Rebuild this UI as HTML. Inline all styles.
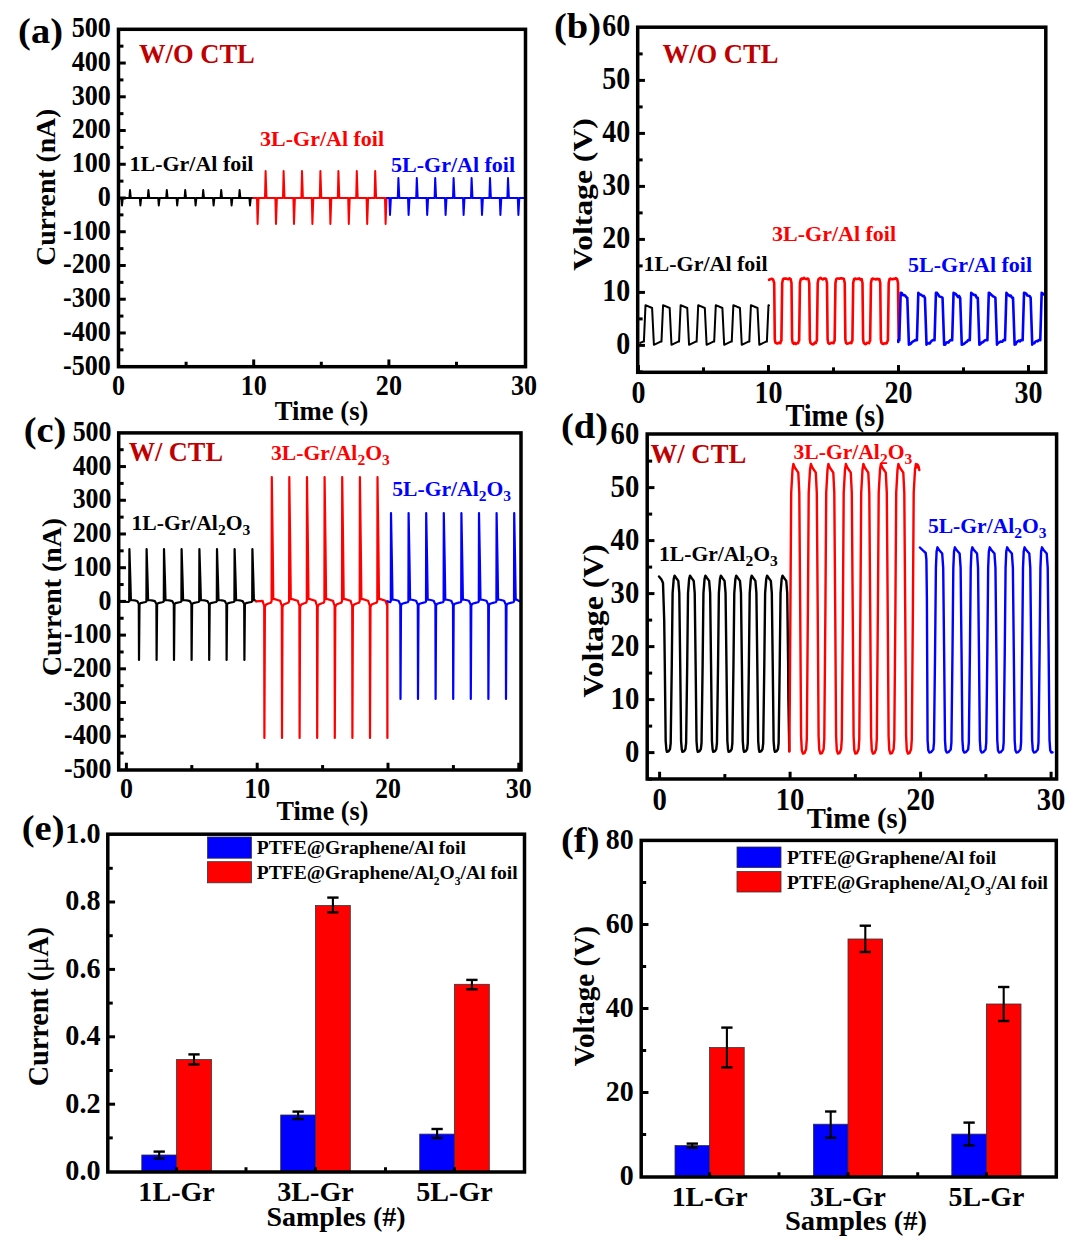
<!DOCTYPE html>
<html><head><meta charset="utf-8"><style>
html,body{margin:0;padding:0;background:#fff;overflow:hidden;}
svg{display:block;}
text{font-family:'Liberation Serif', serif;font-weight:bold;}
</style></head><body>
<svg width="1075" height="1246" viewBox="0 0 1075 1246">
<rect width="1075" height="1246" fill="#fff"/>
<polyline points="118.5,198 121.4,198 122,205.5 122.8,198 129.4,198 130,190 130.8,198 139.8,198 140.4,205.5 141.2,198 147.8,198 148.4,190 149.2,198 158.2,198 158.8,205.5 159.6,198 166.2,198 166.8,190 167.6,198 176.6,198 177.2,205.5 178,198 184.6,198 185.2,190 186,198 195,198 195.6,205.5 196.4,198 202.6,198 203.2,190 204,198 213,198 213.6,205.5 214.4,198 220.6,198 221.2,190 222,198 231,198 231.6,205.5 232.4,198 239,198 239.6,190 240.4,198 249.4,198 250,205.5 250.8,198 253,198" fill="none" stroke="#000" stroke-width="2" stroke-linejoin="round" stroke-linecap="round"/>
<polyline points="253,198 257,198 257.6,224 258.5,198 265,198 265.6,171 266.5,198 275.4,198 276,224 276.9,198 283,198 283.6,171 284.5,198 293.4,198 294,224 294.9,198 301.4,198 302,171 302.9,198 311.8,198 312.4,224 313.3,198 319.8,198 320.4,171 321.3,198 329.8,198 330.4,224 331.3,198 337.8,198 338.4,171 339.3,198 348.2,198 348.8,224 349.7,198 356.2,198 356.8,171 357.7,198 366.6,198 367.2,224 368.1,198 374.6,198 375.2,171 376.1,198 385,198 385.6,224 386.5,198 387,198" fill="none" stroke="#ff0000" stroke-width="2" stroke-linejoin="round" stroke-linecap="round"/>
<polyline points="387,198 389.4,198 390,215 390.9,198 397.8,198 398.4,178 399.3,198 408,198 408.6,215 409.5,198 416.2,198 416.8,178 417.7,198 426.6,198 427.2,215 428.1,198 434.6,198 435.2,178 436.1,198 445,198 445.6,215 446.5,198 453,198 453.6,178 454.5,198 463,198 463.6,215 464.5,198 471,198 471.6,178 472.5,198 481.4,198 482,215 482.9,198 489.4,198 490,178 490.9,198 499.8,198 500.4,215 501.3,198 507.4,198 508,178 508.9,198 517.8,198 518.4,215 519.3,198 524.5,198" fill="none" stroke="#0000ff" stroke-width="2" stroke-linejoin="round" stroke-linecap="round"/>
<rect x="118.5" y="29.3" width="407" height="337.4" fill="none" stroke="#000" stroke-width="3.5"/>
<line x1="118.5" y1="332.96" x2="125.75" y2="332.96" stroke="#000" stroke-width="3" stroke-linecap="butt"/>
<line x1="118.5" y1="299.22" x2="125.75" y2="299.22" stroke="#000" stroke-width="3" stroke-linecap="butt"/>
<line x1="118.5" y1="265.48" x2="125.75" y2="265.48" stroke="#000" stroke-width="3" stroke-linecap="butt"/>
<line x1="118.5" y1="231.74" x2="125.75" y2="231.74" stroke="#000" stroke-width="3" stroke-linecap="butt"/>
<line x1="118.5" y1="198" x2="125.75" y2="198" stroke="#000" stroke-width="3" stroke-linecap="butt"/>
<line x1="118.5" y1="164.26" x2="125.75" y2="164.26" stroke="#000" stroke-width="3" stroke-linecap="butt"/>
<line x1="118.5" y1="130.52" x2="125.75" y2="130.52" stroke="#000" stroke-width="3" stroke-linecap="butt"/>
<line x1="118.5" y1="96.78" x2="125.75" y2="96.78" stroke="#000" stroke-width="3" stroke-linecap="butt"/>
<line x1="118.5" y1="63.04" x2="125.75" y2="63.04" stroke="#000" stroke-width="3" stroke-linecap="butt"/>
<line x1="118.5" y1="349.83" x2="123.45" y2="349.83" stroke="#000" stroke-width="3" stroke-linecap="butt"/>
<line x1="118.5" y1="316.09" x2="123.45" y2="316.09" stroke="#000" stroke-width="3" stroke-linecap="butt"/>
<line x1="118.5" y1="282.35" x2="123.45" y2="282.35" stroke="#000" stroke-width="3" stroke-linecap="butt"/>
<line x1="118.5" y1="248.61" x2="123.45" y2="248.61" stroke="#000" stroke-width="3" stroke-linecap="butt"/>
<line x1="118.5" y1="214.87" x2="123.45" y2="214.87" stroke="#000" stroke-width="3" stroke-linecap="butt"/>
<line x1="118.5" y1="181.13" x2="123.45" y2="181.13" stroke="#000" stroke-width="3" stroke-linecap="butt"/>
<line x1="118.5" y1="147.39" x2="123.45" y2="147.39" stroke="#000" stroke-width="3" stroke-linecap="butt"/>
<line x1="118.5" y1="113.65" x2="123.45" y2="113.65" stroke="#000" stroke-width="3" stroke-linecap="butt"/>
<line x1="118.5" y1="79.91" x2="123.45" y2="79.91" stroke="#000" stroke-width="3" stroke-linecap="butt"/>
<line x1="118.5" y1="46.17" x2="123.45" y2="46.17" stroke="#000" stroke-width="3" stroke-linecap="butt"/>
<line x1="253.7" y1="366.7" x2="253.7" y2="359.45" stroke="#000" stroke-width="3" stroke-linecap="butt"/>
<line x1="388.9" y1="366.7" x2="388.9" y2="359.45" stroke="#000" stroke-width="3" stroke-linecap="butt"/>
<line x1="186.1" y1="366.7" x2="186.1" y2="361.75" stroke="#000" stroke-width="3" stroke-linecap="butt"/>
<line x1="321.3" y1="366.7" x2="321.3" y2="361.75" stroke="#000" stroke-width="3" stroke-linecap="butt"/>
<line x1="456.5" y1="366.7" x2="456.5" y2="361.75" stroke="#000" stroke-width="3" stroke-linecap="butt"/>
<text transform="translate(110.8 374.55) scale(1.0000 1.0960)" font-size="26.1" fill="#000" text-anchor="end" >-500</text>
<text transform="translate(110.8 340.81) scale(1.0000 1.0960)" font-size="26.1" fill="#000" text-anchor="end" >-400</text>
<text transform="translate(110.8 307.07) scale(1.0000 1.0960)" font-size="26.1" fill="#000" text-anchor="end" >-300</text>
<text transform="translate(110.8 273.33) scale(1.0000 1.0960)" font-size="26.1" fill="#000" text-anchor="end" >-200</text>
<text transform="translate(110.8 239.59) scale(1.0000 1.0960)" font-size="26.1" fill="#000" text-anchor="end" >-100</text>
<text transform="translate(110.8 205.85) scale(1.0000 1.0960)" font-size="26.1" fill="#000" text-anchor="end" >0</text>
<text transform="translate(110.8 172.11) scale(1.0000 1.0960)" font-size="26.1" fill="#000" text-anchor="end" >100</text>
<text transform="translate(110.8 138.37) scale(1.0000 1.0960)" font-size="26.1" fill="#000" text-anchor="end" >200</text>
<text transform="translate(110.8 104.63) scale(1.0000 1.0960)" font-size="26.1" fill="#000" text-anchor="end" >300</text>
<text transform="translate(110.8 70.89) scale(1.0000 1.0960)" font-size="26.1" fill="#000" text-anchor="end" >400</text>
<text transform="translate(110.8 37.15) scale(1.0000 1.0960)" font-size="26.1" fill="#000" text-anchor="end" >500</text>
<text transform="translate(118.5 394.5) scale(1.0000 1.0960)" font-size="26.1" fill="#000" text-anchor="middle" >0</text>
<text transform="translate(253.7 394.5) scale(1.0000 1.0960)" font-size="26.1" fill="#000" text-anchor="middle" >10</text>
<text transform="translate(388.9 394.5) scale(1.0000 1.0960)" font-size="26.1" fill="#000" text-anchor="middle" >20</text>
<text transform="translate(524.1 394.5) scale(1.0000 1.0960)" font-size="26.1" fill="#000" text-anchor="middle" >30</text>
<text transform="translate(321.6 420.1) scale(1.0000 0.9900)" font-size="26.7" fill="#000" text-anchor="middle" >Time (s)</text>
<text transform="translate(55 187.3) rotate(-90) scale(1.0000 1)" font-size="27.7" text-anchor="middle">Current (nA)</text>
<text transform="translate(18.1 42.9) scale(1.0000 0.9500)" font-size="38.5" fill="#000" text-anchor="start" >(a)</text>
<text x="139" y="62.6" font-size="26.55" fill="#c00000" text-anchor="start" >W/O CTL</text>
<text transform="translate(129.5 170.7) scale(1.0000 0.9600)" font-size="22" fill="#000" text-anchor="start" >1L-Gr/Al foil</text>
<text transform="translate(260.1 145.6) scale(1.0000 0.9600)" font-size="22" fill="#ff0000" text-anchor="start" >3L-Gr/Al foil</text>
<text transform="translate(391.1 172) scale(1.0000 0.9600)" font-size="22" fill="#0000ff" text-anchor="start" >5L-Gr/Al foil</text>
<polyline points="640.2,342.93 642.53,341.8 643.9,341.6 645.5,305.2 652.1,308 653.9,344.8 660.1,341.8 661.47,341.6 663.07,305.2 669.67,308 671.47,344.8 677.67,341.8 679.04,341.6 680.64,305.2 687.24,308 689.04,344.8 695.24,341.8 696.61,341.6 698.21,305.2 704.81,308 706.61,344.8 712.81,341.8 714.18,341.6 715.78,305.2 722.38,308 724.18,344.8 730.38,341.8 731.75,341.6 733.35,305.2 739.95,308 741.75,344.8 747.95,341.8 749.32,341.6 750.92,305.2 757.52,308 759.32,344.8 765.52,341.8 766.89,341.6 768.49,305.2 769,305.42" fill="none" stroke="#000" stroke-width="2" stroke-linejoin="round" stroke-linecap="round"/>
<polyline points="769,279.8 771,279 772.1,278.81 773.2,279.8 774.2,283 774.8,339.2 775.4,342.7 776.64,343.38 777.88,343.37 779.11,342.68 780.35,343.2 781.15,340.7 781.4,340.7 782.2,283 783,279.3 783.9,278.5 785.02,278.58 786.13,278.59 787.25,278.99 788.37,279.3 789.48,278.27 790.6,279 791.5,283 792.1,339.2 792.7,342.9 793.7,343.8 794.8,342.9 795.9,344.04 797,343.24 798.1,343.2 798.9,340.7 799.15,340.7 799.95,283 800.75,279.3 801.65,278.5 802.77,279 803.88,277.87 805,278.66 806.12,279.19 807.23,278.48 808.35,279 809.25,283 809.85,339.2 810.45,342.9 811.45,343.8 812.55,344.36 813.65,344.14 814.75,342.6 815.85,343.2 816.65,340.7 816.9,340.7 817.7,283 818.5,279.3 819.4,278.5 820.52,277.82 821.63,278.73 822.75,279.45 823.87,278.64 824.98,278.46 826.1,279 827,283 827.6,339.2 828.2,342.9 829.2,343.8 830.3,343.53 831.4,342.75 832.5,342.9 833.6,343.2 834.4,340.7 834.65,340.7 835.45,283 836.25,279.3 837.15,278.5 838.27,278.48 839.38,278.66 840.5,278.32 841.62,278.4 842.73,278.47 843.85,279 844.75,283 845.35,339.2 845.95,342.9 846.95,343.8 848.05,343.59 849.15,343.16 850.25,342.58 851.35,343.2 852.15,340.7 852.4,340.7 853.2,283 854,279.3 854.9,278.5 856.02,279.12 857.13,278.76 858.25,278.98 859.37,278.33 860.48,279.7 861.6,279 862.5,283 863.1,339.2 863.7,342.9 864.7,343.8 865.8,344.23 866.9,342.89 868,343.08 869.1,343.2 869.9,340.7 870.15,340.7 870.95,283 871.75,279.3 872.65,278.5 873.77,278.94 874.88,279 876,279.45 877.12,278.71 878.23,279.44 879.35,279 880.25,283 880.85,339.2 881.45,342.9 882.45,343.8 883.55,343.92 884.65,343.19 885.75,343.49 886.85,343.2 887.65,340.7 887.9,340.7 888.7,283 889.5,279.3 890.4,278.5 891.52,279.2 892.63,279.22 893.75,278.76 894.87,278.98 895.98,278.17 897.1,279 898,283 898.6,339.2 898.6,339.2" fill="none" stroke="#ff0000" stroke-width="2.6" stroke-linejoin="round" stroke-linecap="round"/>
<polyline points="898.3,342 898.3,340.1 899.3,340.1 900.7,292.8 901.8,293.07 902.9,295.12 904,295.11 905.1,295.41 906.2,297.07 907.3,297.8 908.9,344.6 909.97,344.3 911.03,343.48 912.1,342.07 913.17,341.47 914.23,340.87 915.3,340.1 916.92,340.1 918.32,292.8 919.42,294.25 920.52,294.51 921.62,295.07 922.72,296.11 923.82,295.93 924.92,297.8 926.52,344.6 927.59,342.85 928.65,343.55 929.72,343.41 930.79,341.81 931.85,340.62 932.92,340.1 934.54,340.1 935.94,292.8 937.04,292.91 938.14,294.47 939.24,296.36 940.34,296.73 941.44,297.05 942.54,297.8 944.14,344.6 945.21,344.64 946.27,342.51 947.34,342.38 948.41,342.6 949.47,341.02 950.54,340.1 952.16,340.1 953.56,292.8 954.66,293.54 955.76,293.96 956.86,295.41 957.96,297.14 959.06,295.88 960.16,297.8 961.76,344.6 962.83,344.47 963.89,343.81 964.96,343.2 966.03,342.13 967.09,341.53 968.16,340.1 969.78,340.1 971.18,292.8 972.28,293.67 973.38,294.6 974.48,295.14 975.58,295.16 976.68,297.78 977.78,297.8 979.38,344.6 980.45,344 981.51,342.44 982.58,342.36 983.65,341.57 984.71,340.53 985.78,340.1 987.4,340.1 988.8,292.8 989.9,293.29 991,294.55 992.1,295.57 993.2,296.38 994.3,296.87 995.4,297.8 997,344.6 998.07,342.81 999.13,342.51 1000.2,341.64 1001.27,341.79 1002.33,341.64 1003.4,340.1 1005.02,340.1 1006.42,292.8 1007.52,294.29 1008.62,295.12 1009.72,296 1010.82,295.59 1011.92,297.72 1013.02,297.8 1014.62,344.6 1015.69,344.23 1016.75,342.18 1017.82,341.29 1018.89,340.53 1019.95,341.41 1021.02,340.1 1022.64,340.1 1024.04,292.8 1025.14,293.08 1026.24,293.61 1027.34,295.57 1028.44,295.79 1029.54,296.02 1030.64,297.8 1032.24,344.6 1033.31,343.1 1034.37,343.16 1035.44,341.62 1036.51,341.1 1037.57,341.32 1038.64,340.1 1040.26,340.1 1041.66,292.8 1042.83,293.59 1044,294.57" fill="none" stroke="#0000ff" stroke-width="2.6" stroke-linejoin="round" stroke-linecap="round"/>
<rect x="637.7" y="27.2" width="408.1" height="345.1" fill="none" stroke="#000" stroke-width="3.5"/>
<line x1="637.7" y1="345.4" x2="644.95" y2="345.4" stroke="#000" stroke-width="3" stroke-linecap="butt"/>
<line x1="637.7" y1="292.4" x2="644.95" y2="292.4" stroke="#000" stroke-width="3" stroke-linecap="butt"/>
<line x1="637.7" y1="239.4" x2="644.95" y2="239.4" stroke="#000" stroke-width="3" stroke-linecap="butt"/>
<line x1="637.7" y1="186.4" x2="644.95" y2="186.4" stroke="#000" stroke-width="3" stroke-linecap="butt"/>
<line x1="637.7" y1="133.4" x2="644.95" y2="133.4" stroke="#000" stroke-width="3" stroke-linecap="butt"/>
<line x1="637.7" y1="80.4" x2="644.95" y2="80.4" stroke="#000" stroke-width="3" stroke-linecap="butt"/>
<line x1="637.7" y1="371.9" x2="642.65" y2="371.9" stroke="#000" stroke-width="3" stroke-linecap="butt"/>
<line x1="637.7" y1="318.9" x2="642.65" y2="318.9" stroke="#000" stroke-width="3" stroke-linecap="butt"/>
<line x1="637.7" y1="265.9" x2="642.65" y2="265.9" stroke="#000" stroke-width="3" stroke-linecap="butt"/>
<line x1="637.7" y1="212.9" x2="642.65" y2="212.9" stroke="#000" stroke-width="3" stroke-linecap="butt"/>
<line x1="637.7" y1="159.9" x2="642.65" y2="159.9" stroke="#000" stroke-width="3" stroke-linecap="butt"/>
<line x1="637.7" y1="106.9" x2="642.65" y2="106.9" stroke="#000" stroke-width="3" stroke-linecap="butt"/>
<line x1="637.7" y1="53.9" x2="642.65" y2="53.9" stroke="#000" stroke-width="3" stroke-linecap="butt"/>
<line x1="638.5" y1="372.3" x2="638.5" y2="365.05" stroke="#000" stroke-width="3" stroke-linecap="butt"/>
<line x1="768.5" y1="372.3" x2="768.5" y2="365.05" stroke="#000" stroke-width="3" stroke-linecap="butt"/>
<line x1="898.5" y1="372.3" x2="898.5" y2="365.05" stroke="#000" stroke-width="3" stroke-linecap="butt"/>
<line x1="1028.5" y1="372.3" x2="1028.5" y2="365.05" stroke="#000" stroke-width="3" stroke-linecap="butt"/>
<line x1="703.5" y1="372.3" x2="703.5" y2="367.35" stroke="#000" stroke-width="3" stroke-linecap="butt"/>
<line x1="833.5" y1="372.3" x2="833.5" y2="367.35" stroke="#000" stroke-width="3" stroke-linecap="butt"/>
<line x1="963.5" y1="372.3" x2="963.5" y2="367.35" stroke="#000" stroke-width="3" stroke-linecap="butt"/>
<text transform="translate(630.2 353.96) scale(1.0000 1.0960)" font-size="28" fill="#000" text-anchor="end" >0</text>
<text transform="translate(630.2 300.96) scale(1.0000 1.0960)" font-size="28" fill="#000" text-anchor="end" >10</text>
<text transform="translate(630.2 247.96) scale(1.0000 1.0960)" font-size="28" fill="#000" text-anchor="end" >20</text>
<text transform="translate(630.2 194.96) scale(1.0000 1.0960)" font-size="28" fill="#000" text-anchor="end" >30</text>
<text transform="translate(630.2 141.96) scale(1.0000 1.0960)" font-size="28" fill="#000" text-anchor="end" >40</text>
<text transform="translate(630.2 88.96) scale(1.0000 1.0960)" font-size="28" fill="#000" text-anchor="end" >50</text>
<text transform="translate(630.2 35.96) scale(1.0000 1.0960)" font-size="28" fill="#000" text-anchor="end" >60</text>
<text transform="translate(638.5 402.6) scale(1.0000 1.0960)" font-size="28" fill="#000" text-anchor="middle" >0</text>
<text transform="translate(768.5 402.6) scale(1.0000 1.0960)" font-size="28" fill="#000" text-anchor="middle" >10</text>
<text transform="translate(898.5 402.6) scale(1.0000 1.0960)" font-size="28" fill="#000" text-anchor="middle" >20</text>
<text transform="translate(1028.5 402.6) scale(1.0000 1.0960)" font-size="28" fill="#000" text-anchor="middle" >30</text>
<text transform="translate(835 426.2) scale(1.0000 1.0800)" font-size="28.3" fill="#000" text-anchor="middle" >Time (s)</text>
<text transform="translate(591.5 194.5) rotate(-90) scale(1.1300 1)" font-size="28" text-anchor="middle">Voltage (V)</text>
<text transform="translate(554 37.6) scale(1.0000 0.9500)" font-size="38.5" fill="#000" text-anchor="start" >(b)</text>
<text x="662.6" y="63.2" font-size="26.55" fill="#c00000" text-anchor="start" >W/O CTL</text>
<text transform="translate(643.6 270.6) scale(1.0000 0.9600)" font-size="22" fill="#000" text-anchor="start" >1L-Gr/Al foil</text>
<text transform="translate(772.1 241) scale(1.0000 0.9600)" font-size="22" fill="#ff0000" text-anchor="start" >3L-Gr/Al foil</text>
<text transform="translate(908.1 272) scale(1.0000 0.9600)" font-size="22" fill="#0000ff" text-anchor="start" >5L-Gr/Al foil</text>
<polyline points="118.4,601.3 128.5,602.02 129.2,601.3 129.4,549 130.3,577.76 130.9,600.1 131.6,599.98 135.9,600.7 137.2,601.06 138.2,602.86 138.8,603.7 139,660 139.5,604.42 140.6,603.1 144.5,602.26 145.7,602.02 146.4,601.3 146.6,549 147.5,577.76 148.1,600.1 148.8,599.98 153.1,600.7 154.8,601.06 155.8,602.86 156.4,603.7 156.6,660 157.1,604.42 158.2,603.1 162.1,602.26 163.1,602.02 163.8,601.3 164,549 164.9,577.76 165.5,600.1 166.2,599.98 170.5,600.7 172.2,601.06 173.2,602.86 173.8,603.7 174,660 174.5,604.42 175.6,603.1 179.5,602.26 180.7,602.02 181.4,601.3 181.6,549 182.5,577.76 183.1,600.1 183.8,599.98 188.1,600.7 189.8,601.06 190.8,602.86 191.4,603.7 191.6,660 192.1,604.42 193.2,603.1 197.1,602.26 198.5,602.02 199.2,601.3 199.4,549 200.3,577.76 200.9,600.1 201.6,599.98 205.9,600.7 207.4,601.06 208.4,602.86 209,603.7 209.2,660 209.7,604.42 210.8,603.1 214.7,602.26 216.1,602.02 216.8,601.3 217,549 217.9,577.76 218.5,600.1 219.2,599.98 223.5,600.7 224.8,601.06 225.8,602.86 226.4,603.7 226.6,660 227.1,604.42 228.2,603.1 232.1,602.26 233.7,602.02 234.4,601.3 234.6,549 235.5,577.76 236.1,600.1 236.8,599.98 241.1,600.7 242.6,601.06 243.6,602.86 244.2,603.7 244.4,660 244.9,604.42 246,603.1 249.9,602.26 251.5,602.02 252.2,601.3 252.4,549 253.3,577.76 253.9,600.1 254.6,599.98 256,601.3" fill="none" stroke="#000" stroke-width="2.2" stroke-linejoin="round" stroke-linecap="round"/>
<polyline points="256,601.3 262.6,600.86 263.6,604.16 264.2,605.7 264.4,738 264.9,607.02 266,604.6 269.9,603.06 270.9,602.62 271.6,601.3 271.8,477 272.7,545.37 273.3,599.1 274,598.88 278.3,600.2 280.2,600.86 281.2,604.16 281.8,605.7 282,738 282.5,607.02 283.6,604.6 287.5,603.06 288.4,602.62 289.1,601.3 289.3,477 290.2,545.37 290.8,599.1 291.5,598.88 295.8,600.2 297.8,600.86 298.8,604.16 299.4,605.7 299.6,738 300.1,607.02 301.2,604.6 305.1,603.06 306.1,602.62 306.8,601.3 307,477 307.9,545.37 308.5,599.1 309.2,598.88 313.5,600.2 315.4,600.86 316.4,604.16 317,605.7 317.2,738 317.7,607.02 318.8,604.6 322.7,603.06 323.7,602.62 324.4,601.3 324.6,477 325.5,545.37 326.1,599.1 326.8,598.88 331.1,600.2 333,600.86 334,604.16 334.6,605.7 334.8,738 335.3,607.02 336.4,604.6 340.3,603.06 341.3,602.62 342,601.3 342.2,477 343.1,545.37 343.7,599.1 344.4,598.88 348.7,600.2 350.6,600.86 351.6,604.16 352.2,605.7 352.4,738 352.9,607.02 354,604.6 357.9,603.06 359,602.62 359.7,601.3 359.9,477 360.8,545.37 361.4,599.1 362.1,598.88 366.4,600.2 368.2,600.86 369.2,604.16 369.8,605.7 370,738 370.5,607.02 371.6,604.6 375.5,603.06 376.6,602.62 377.3,601.3 377.5,477 378.4,545.37 379,599.1 379.7,598.88 384,600.2 385.6,600.86 386.6,604.16 387.2,605.7 387.4,738 387.4,601.3" fill="none" stroke="#ff0000" stroke-width="2.2" stroke-linejoin="round" stroke-linecap="round"/>
<polyline points="387.4,601.3 390.1,602.26 390.8,601.3 391,513 391.9,561.56 392.5,599.7 393.2,599.54 397.5,600.5 398.7,600.98 399.7,603.38 400.3,604.5 400.5,699 401,605.46 402.1,603.7 406,602.58 407.7,602.26 408.4,601.3 408.6,513 409.5,561.56 410.1,599.7 410.8,599.54 415.1,600.5 416.2,600.98 417.2,603.38 417.8,604.5 418,699 418.5,605.46 419.6,603.7 423.5,602.58 425.3,602.26 426,601.3 426.2,513 427.1,561.56 427.7,599.7 428.4,599.54 432.7,600.5 433.8,600.98 434.8,603.38 435.4,604.5 435.6,699 436.1,605.46 437.2,603.7 441.1,602.58 442.9,602.26 443.6,601.3 443.8,513 444.7,561.56 445.3,599.7 446,599.54 450.3,600.5 451.4,600.98 452.4,603.38 453,604.5 453.2,699 453.7,605.46 454.8,603.7 458.7,602.58 460.5,602.26 461.2,601.3 461.4,513 462.3,561.56 462.9,599.7 463.6,599.54 467.9,600.5 469,600.98 470,603.38 470.6,604.5 470.8,699 471.3,605.46 472.4,603.7 476.3,602.58 478.1,602.26 478.8,601.3 479,513 479.9,561.56 480.5,599.7 481.2,599.54 485.5,600.5 486.6,600.98 487.6,603.38 488.2,604.5 488.4,699 488.9,605.46 490,603.7 493.9,602.58 495.7,602.26 496.4,601.3 496.6,513 497.5,561.56 498.1,599.7 498.8,599.54 503.1,600.5 504.2,600.98 505.2,603.38 505.8,604.5 506,699 506.5,605.46 507.6,603.7 511.5,602.58 513.3,602.26 514,601.3 514.2,513 515.1,561.56 515.7,599.7 516.4,599.54 519.5,601.3" fill="none" stroke="#0000ff" stroke-width="2.2" stroke-linejoin="round" stroke-linecap="round"/>
<rect x="118.7" y="432.9" width="402.3" height="337.1" fill="none" stroke="#000" stroke-width="3.5"/>
<line x1="118.7" y1="736.24" x2="125.95" y2="736.24" stroke="#000" stroke-width="3" stroke-linecap="butt"/>
<line x1="118.7" y1="702.53" x2="125.95" y2="702.53" stroke="#000" stroke-width="3" stroke-linecap="butt"/>
<line x1="118.7" y1="668.82" x2="125.95" y2="668.82" stroke="#000" stroke-width="3" stroke-linecap="butt"/>
<line x1="118.7" y1="635.11" x2="125.95" y2="635.11" stroke="#000" stroke-width="3" stroke-linecap="butt"/>
<line x1="118.7" y1="601.4" x2="125.95" y2="601.4" stroke="#000" stroke-width="3" stroke-linecap="butt"/>
<line x1="118.7" y1="567.69" x2="125.95" y2="567.69" stroke="#000" stroke-width="3" stroke-linecap="butt"/>
<line x1="118.7" y1="533.98" x2="125.95" y2="533.98" stroke="#000" stroke-width="3" stroke-linecap="butt"/>
<line x1="118.7" y1="500.27" x2="125.95" y2="500.27" stroke="#000" stroke-width="3" stroke-linecap="butt"/>
<line x1="118.7" y1="466.56" x2="125.95" y2="466.56" stroke="#000" stroke-width="3" stroke-linecap="butt"/>
<line x1="118.7" y1="753.1" x2="123.65" y2="753.1" stroke="#000" stroke-width="3" stroke-linecap="butt"/>
<line x1="118.7" y1="719.38" x2="123.65" y2="719.38" stroke="#000" stroke-width="3" stroke-linecap="butt"/>
<line x1="118.7" y1="685.67" x2="123.65" y2="685.67" stroke="#000" stroke-width="3" stroke-linecap="butt"/>
<line x1="118.7" y1="651.97" x2="123.65" y2="651.97" stroke="#000" stroke-width="3" stroke-linecap="butt"/>
<line x1="118.7" y1="618.25" x2="123.65" y2="618.25" stroke="#000" stroke-width="3" stroke-linecap="butt"/>
<line x1="118.7" y1="584.54" x2="123.65" y2="584.54" stroke="#000" stroke-width="3" stroke-linecap="butt"/>
<line x1="118.7" y1="550.83" x2="123.65" y2="550.83" stroke="#000" stroke-width="3" stroke-linecap="butt"/>
<line x1="118.7" y1="517.12" x2="123.65" y2="517.12" stroke="#000" stroke-width="3" stroke-linecap="butt"/>
<line x1="118.7" y1="483.41" x2="123.65" y2="483.41" stroke="#000" stroke-width="3" stroke-linecap="butt"/>
<line x1="118.7" y1="449.7" x2="123.65" y2="449.7" stroke="#000" stroke-width="3" stroke-linecap="butt"/>
<line x1="126.4" y1="770" x2="126.4" y2="762.75" stroke="#000" stroke-width="3" stroke-linecap="butt"/>
<line x1="257.2" y1="770" x2="257.2" y2="762.75" stroke="#000" stroke-width="3" stroke-linecap="butt"/>
<line x1="388" y1="770" x2="388" y2="762.75" stroke="#000" stroke-width="3" stroke-linecap="butt"/>
<line x1="518.8" y1="770" x2="518.8" y2="762.75" stroke="#000" stroke-width="3" stroke-linecap="butt"/>
<line x1="191.8" y1="770" x2="191.8" y2="765.05" stroke="#000" stroke-width="3" stroke-linecap="butt"/>
<line x1="322.6" y1="770" x2="322.6" y2="765.05" stroke="#000" stroke-width="3" stroke-linecap="butt"/>
<line x1="453.4" y1="770" x2="453.4" y2="765.05" stroke="#000" stroke-width="3" stroke-linecap="butt"/>
<text transform="translate(111.5 778.16) scale(1.0000 1.1450)" font-size="25.9" fill="#000" text-anchor="end" >-500</text>
<text transform="translate(111.5 744.45) scale(1.0000 1.1450)" font-size="25.9" fill="#000" text-anchor="end" >-400</text>
<text transform="translate(111.5 710.74) scale(1.0000 1.1450)" font-size="25.9" fill="#000" text-anchor="end" >-300</text>
<text transform="translate(111.5 677.03) scale(1.0000 1.1450)" font-size="25.9" fill="#000" text-anchor="end" >-200</text>
<text transform="translate(111.5 643.32) scale(1.0000 1.1450)" font-size="25.9" fill="#000" text-anchor="end" >-100</text>
<text transform="translate(111.5 609.61) scale(1.0000 1.1450)" font-size="25.9" fill="#000" text-anchor="end" >0</text>
<text transform="translate(111.5 575.9) scale(1.0000 1.1450)" font-size="25.9" fill="#000" text-anchor="end" >100</text>
<text transform="translate(111.5 542.19) scale(1.0000 1.1450)" font-size="25.9" fill="#000" text-anchor="end" >200</text>
<text transform="translate(111.5 508.48) scale(1.0000 1.1450)" font-size="25.9" fill="#000" text-anchor="end" >300</text>
<text transform="translate(111.5 474.77) scale(1.0000 1.1450)" font-size="25.9" fill="#000" text-anchor="end" >400</text>
<text transform="translate(111.5 441.06) scale(1.0000 1.1450)" font-size="25.9" fill="#000" text-anchor="end" >500</text>
<text transform="translate(126.4 798.2) scale(1.0000 1.1450)" font-size="25.9" fill="#000" text-anchor="middle" >0</text>
<text transform="translate(257.2 798.2) scale(1.0000 1.1450)" font-size="25.9" fill="#000" text-anchor="middle" >10</text>
<text transform="translate(388 798.2) scale(1.0000 1.1450)" font-size="25.9" fill="#000" text-anchor="middle" >20</text>
<text transform="translate(518.8 798.2) scale(1.0000 1.1450)" font-size="25.9" fill="#000" text-anchor="middle" >30</text>
<text transform="translate(322.5 819.7) scale(1.0000 1.0400)" font-size="26.2" fill="#000" text-anchor="middle" >Time (s)</text>
<text transform="translate(61.3 597) rotate(-90) scale(0.9850 1)" font-size="28.3" text-anchor="middle">Current (nA)</text>
<text transform="translate(23.7 442.4) scale(1.0000 0.9500)" font-size="38.5" fill="#000" text-anchor="start" >(c)</text>
<text x="128.7" y="461.3" font-size="26.3" fill="#c00000" text-anchor="start" >W/ CTL</text>
<text x="131.5" y="530.1" font-size="21.6" fill="#000" text-anchor="start" >1L-Gr/Al<tspan font-size="15.5" dy="5">2</tspan><tspan dy="-5">O</tspan><tspan font-size="15.5" dy="5">3</tspan></text>
<text x="271" y="459.5" font-size="21.6" fill="#ff0000" text-anchor="start" >3L-Gr/Al<tspan font-size="15.5" dy="5">2</tspan><tspan dy="-5">O</tspan><tspan font-size="15.5" dy="5">3</tspan></text>
<text x="392.3" y="496.3" font-size="21.6" fill="#0000ff" text-anchor="start" >5L-Gr/Al<tspan font-size="15.5" dy="5">2</tspan><tspan dy="-5">O</tspan><tspan font-size="15.5" dy="5">3</tspan></text>
<polyline points="659,576.4 661.5,579.5 663,583 664.2,620 664.78,663.7 665.68,741.23 666.38,749.69 666.98,751.8 668.58,751.45 670,749.16 670.7,742.99 671.8,663.7 672.6,593.22 673.7,579.12 674.6,575.6 676,577.71 678.3,580.89 679.3,593.22 680.2,663.7 681.1,741.23 681.8,749.69 682.4,751.8 684,751.45 685.42,749.16 686.12,742.99 687.22,663.7 688.02,593.22 689.12,579.12 690.02,575.6 691.42,577.71 693.72,580.89 694.72,593.22 695.62,663.7 696.52,741.23 697.22,749.69 697.82,751.8 699.42,751.45 700.84,749.16 701.54,742.99 702.64,663.7 703.44,593.22 704.54,579.12 705.44,575.6 706.84,577.71 709.14,580.89 710.14,593.22 711.04,663.7 711.94,741.23 712.64,749.69 713.24,751.8 714.84,751.45 716.26,749.16 716.96,742.99 718.06,663.7 718.86,593.22 719.96,579.12 720.86,575.6 722.26,577.71 724.56,580.89 725.56,593.22 726.46,663.7 727.36,741.23 728.06,749.69 728.66,751.8 730.26,751.45 731.68,749.16 732.38,742.99 733.48,663.7 734.28,593.22 735.38,579.12 736.28,575.6 737.68,577.71 739.98,580.89 740.98,593.22 741.88,663.7 742.78,741.23 743.48,749.69 744.08,751.8 745.68,751.45 747.1,749.16 747.8,742.99 748.9,663.7 749.7,593.22 750.8,579.12 751.7,575.6 753.1,577.71 755.4,580.89 756.4,593.22 757.3,663.7 758.2,741.23 758.9,749.69 759.5,751.8 761.1,751.45 762.52,749.16 763.22,742.99 764.32,663.7 765.12,593.22 766.22,579.12 767.12,575.6 768.52,577.71 770.82,580.89 771.82,593.22 772.72,663.7 773.62,741.23 774.32,749.69 774.92,751.8 776.52,751.45 777.94,749.16 778.64,742.99 779.74,663.7 780.54,593.22 781.64,579.12 782.54,575.6 783.94,577.71 786.24,580.89 787.24,593.22 788.14,663.7 788.4,700 789.3,751" fill="none" stroke="#000" stroke-width="2.4" stroke-linejoin="round" stroke-linecap="round"/>
<polyline points="789.3,751.5 789.8,700 790.4,608.8 791.2,492.96 792.5,469.79 793.4,464 794.8,467.48 798.3,472.69 799.3,492.96 800.2,608.8 801.1,736.22 801.8,750.12 802.9,753.6 804.5,753.02 806.1,749.26 806.8,739.12 807.9,608.8 808.7,492.96 810,469.79 810.9,464 812.3,467.48 815.8,472.69 816.8,492.96 817.7,608.8 818.6,736.22 819.3,750.12 820.4,753.6 822,753.02 823.6,749.26 824.3,739.12 825.4,608.8 826.2,492.96 827.5,469.79 828.4,464 829.8,467.48 833.3,472.69 834.3,492.96 835.2,608.8 836.1,736.22 836.8,750.12 837.9,753.6 839.5,753.02 841.1,749.26 841.8,739.12 842.9,608.8 843.7,492.96 845,469.79 845.9,464 847.3,467.48 850.8,472.69 851.8,492.96 852.7,608.8 853.6,736.22 854.3,750.12 855.4,753.6 857,753.02 858.6,749.26 859.3,739.12 860.4,608.8 861.2,492.96 862.5,469.79 863.4,464 864.8,467.48 868.3,472.69 869.3,492.96 870.2,608.8 871.1,736.22 871.8,750.12 872.9,753.6 874.5,753.02 876.1,749.26 876.8,739.12 877.9,608.8 878.7,492.96 880,469.79 880.9,464 882.3,467.48 885.8,472.69 886.8,492.96 887.7,608.8 888.6,736.22 889.3,750.12 890.4,753.6 892,753.02 893.6,749.26 894.3,739.12 895.4,608.8 896.2,492.96 897.5,469.79 898.4,464 899.8,467.48 903.3,472.69 904.3,492.96 905.2,608.8 906.1,736.22 906.8,750.12 907.9,753.6 909.5,753.02 911.1,749.26 911.8,739.12 912.9,608.8 913.7,492.96 915,469.79 915.9,464 917.3,467.48 917.6,464.5 918.6,466.5 919.3,470" fill="none" stroke="#ff0000" stroke-width="2.4" stroke-linejoin="round" stroke-linecap="round"/>
<polyline points="919.9,547.5 923,550.5 925.7,553 926.4,559.5 926.9,600 927.58,740.28 928.28,750.14 929.38,752.6 930.98,752.19 933.3,749.52 934,742.34 935.1,649.95 935.9,567.83 936.6,551.41 937.5,547.3 938.9,549.76 942.2,553.46 943.2,567.83 944.1,649.95 945,740.28 945.7,750.14 946.8,752.6 948.4,752.19 950.72,749.52 951.42,742.34 952.52,649.95 953.32,567.83 954.02,551.41 954.92,547.3 956.32,549.76 959.62,553.46 960.62,567.83 961.52,649.95 962.42,740.28 963.12,750.14 964.22,752.6 965.82,752.19 968.14,749.52 968.84,742.34 969.94,649.95 970.74,567.83 971.44,551.41 972.34,547.3 973.74,549.76 977.04,553.46 978.04,567.83 978.94,649.95 979.84,740.28 980.54,750.14 981.64,752.6 983.24,752.19 985.56,749.52 986.26,742.34 987.36,649.95 988.16,567.83 988.86,551.41 989.76,547.3 991.16,549.76 994.46,553.46 995.46,567.83 996.36,649.95 997.26,740.28 997.96,750.14 999.06,752.6 1000.66,752.19 1002.98,749.52 1003.68,742.34 1004.78,649.95 1005.58,567.83 1006.28,551.41 1007.18,547.3 1008.58,549.76 1011.88,553.46 1012.88,567.83 1013.78,649.95 1014.68,740.28 1015.38,750.14 1016.48,752.6 1018.08,752.19 1020.4,749.52 1021.1,742.34 1022.2,649.95 1023,567.83 1023.7,551.41 1024.6,547.3 1026,549.76 1029.3,553.46 1030.3,567.83 1031.2,649.95 1032.1,740.28 1032.8,750.14 1033.9,752.6 1035.5,752.19 1037.82,749.52 1038.52,742.34 1039.62,649.95 1040.42,567.83 1041.12,551.41 1042.02,547.3 1043.42,549.76 1046.72,553.46 1047.72,567.83 1048.62,649.95 1049.52,740.28 1050.22,750.14 1051.32,752.6 1052.5,752.3" fill="none" stroke="#0000ff" stroke-width="2.4" stroke-linejoin="round" stroke-linecap="round"/>
<rect x="647.2" y="434" width="409.4" height="345" fill="none" stroke="#000" stroke-width="3.5"/>
<line x1="647.2" y1="752.6" x2="654.45" y2="752.6" stroke="#000" stroke-width="3" stroke-linecap="butt"/>
<line x1="647.2" y1="699.6" x2="654.45" y2="699.6" stroke="#000" stroke-width="3" stroke-linecap="butt"/>
<line x1="647.2" y1="646.6" x2="654.45" y2="646.6" stroke="#000" stroke-width="3" stroke-linecap="butt"/>
<line x1="647.2" y1="593.6" x2="654.45" y2="593.6" stroke="#000" stroke-width="3" stroke-linecap="butt"/>
<line x1="647.2" y1="540.6" x2="654.45" y2="540.6" stroke="#000" stroke-width="3" stroke-linecap="butt"/>
<line x1="647.2" y1="487.6" x2="654.45" y2="487.6" stroke="#000" stroke-width="3" stroke-linecap="butt"/>
<line x1="647.2" y1="779.1" x2="652.15" y2="779.1" stroke="#000" stroke-width="3" stroke-linecap="butt"/>
<line x1="647.2" y1="726.1" x2="652.15" y2="726.1" stroke="#000" stroke-width="3" stroke-linecap="butt"/>
<line x1="647.2" y1="673.1" x2="652.15" y2="673.1" stroke="#000" stroke-width="3" stroke-linecap="butt"/>
<line x1="647.2" y1="620.1" x2="652.15" y2="620.1" stroke="#000" stroke-width="3" stroke-linecap="butt"/>
<line x1="647.2" y1="567.1" x2="652.15" y2="567.1" stroke="#000" stroke-width="3" stroke-linecap="butt"/>
<line x1="647.2" y1="514.1" x2="652.15" y2="514.1" stroke="#000" stroke-width="3" stroke-linecap="butt"/>
<line x1="647.2" y1="461.1" x2="652.15" y2="461.1" stroke="#000" stroke-width="3" stroke-linecap="butt"/>
<line x1="659.6" y1="779" x2="659.6" y2="771.75" stroke="#000" stroke-width="3" stroke-linecap="butt"/>
<line x1="790.1" y1="779" x2="790.1" y2="771.75" stroke="#000" stroke-width="3" stroke-linecap="butt"/>
<line x1="920.6" y1="779" x2="920.6" y2="771.75" stroke="#000" stroke-width="3" stroke-linecap="butt"/>
<line x1="1051.1" y1="779" x2="1051.1" y2="771.75" stroke="#000" stroke-width="3" stroke-linecap="butt"/>
<line x1="724.85" y1="779" x2="724.85" y2="774.05" stroke="#000" stroke-width="3" stroke-linecap="butt"/>
<line x1="855.35" y1="779" x2="855.35" y2="774.05" stroke="#000" stroke-width="3" stroke-linecap="butt"/>
<line x1="985.85" y1="779" x2="985.85" y2="774.05" stroke="#000" stroke-width="3" stroke-linecap="butt"/>
<text transform="translate(639.3 761.72) scale(1.0000 1.1270)" font-size="28.7" fill="#000" text-anchor="end" >0</text>
<text transform="translate(639.3 708.72) scale(1.0000 1.1270)" font-size="28.7" fill="#000" text-anchor="end" >10</text>
<text transform="translate(639.3 655.72) scale(1.0000 1.1270)" font-size="28.7" fill="#000" text-anchor="end" >20</text>
<text transform="translate(639.3 602.72) scale(1.0000 1.1270)" font-size="28.7" fill="#000" text-anchor="end" >30</text>
<text transform="translate(639.3 549.72) scale(1.0000 1.1270)" font-size="28.7" fill="#000" text-anchor="end" >40</text>
<text transform="translate(639.3 496.72) scale(1.0000 1.1270)" font-size="28.7" fill="#000" text-anchor="end" >50</text>
<text transform="translate(639.3 443.72) scale(1.0000 1.1270)" font-size="28.7" fill="#000" text-anchor="end" >60</text>
<text transform="translate(659.6 809.7) scale(1.0000 1.1270)" font-size="28.7" fill="#000" text-anchor="middle" >0</text>
<text transform="translate(790.1 809.7) scale(1.0000 1.1270)" font-size="28.7" fill="#000" text-anchor="middle" >10</text>
<text transform="translate(920.6 809.7) scale(1.0000 1.1270)" font-size="28.7" fill="#000" text-anchor="middle" >20</text>
<text transform="translate(1051.1 809.7) scale(1.0000 1.1270)" font-size="28.7" fill="#000" text-anchor="middle" >30</text>
<text transform="translate(857 827.6) scale(1.0000 1.0160)" font-size="28.7" fill="#000" text-anchor="middle" >Time (s)</text>
<text transform="translate(603.3 620.8) rotate(-90) scale(1.0970 1)" font-size="29" text-anchor="middle">Voltage (V)</text>
<text transform="translate(561 438.4) scale(1.0000 0.9500)" font-size="38.5" fill="#000" text-anchor="start" >(d)</text>
<text x="650.6" y="462.9" font-size="26.7" fill="#c00000" text-anchor="start" >W/ CTL</text>
<text x="659" y="561.3" font-size="21.6" fill="#000" text-anchor="start" >1L-Gr/Al<tspan font-size="15.5" dy="5">2</tspan><tspan dy="-5">O</tspan><tspan font-size="15.5" dy="5">3</tspan></text>
<text x="793.5" y="459.3" font-size="21.6" fill="#ff0000" text-anchor="start" >3L-Gr/Al<tspan font-size="15.5" dy="5">2</tspan><tspan dy="-5">O</tspan><tspan font-size="15.5" dy="5">3</tspan></text>
<text x="927.9" y="532.7" font-size="21.6" fill="#0000ff" text-anchor="start" >5L-Gr/Al<tspan font-size="15.5" dy="5">2</tspan><tspan dy="-5">O</tspan><tspan font-size="15.5" dy="5">3</tspan></text>
<rect x="141.8" y="1155" width="34.8" height="16.6" fill="#0000ff" stroke="#333" stroke-width="0.8"/>
<rect x="176.6" y="1059.6" width="34.8" height="112" fill="#ff0000" stroke="#333" stroke-width="0.8"/>
<line x1="159.2" y1="1151.6" x2="159.2" y2="1158.4" stroke="#000" stroke-width="2.1" stroke-linecap="butt"/>
<line x1="153.55" y1="1151.6" x2="164.85" y2="1151.6" stroke="#000" stroke-width="2.4" stroke-linecap="butt"/>
<line x1="153.55" y1="1158.4" x2="164.85" y2="1158.4" stroke="#000" stroke-width="2.4" stroke-linecap="butt"/>
<line x1="194" y1="1054.4" x2="194" y2="1064.4" stroke="#000" stroke-width="2.1" stroke-linecap="butt"/>
<line x1="188.35" y1="1054.4" x2="199.65" y2="1054.4" stroke="#000" stroke-width="2.4" stroke-linecap="butt"/>
<line x1="188.35" y1="1064.4" x2="199.65" y2="1064.4" stroke="#000" stroke-width="2.4" stroke-linecap="butt"/>
<rect x="280.7" y="1115" width="34.8" height="56.6" fill="#0000ff" stroke="#333" stroke-width="0.8"/>
<rect x="315.5" y="905.6" width="34.8" height="266" fill="#ff0000" stroke="#333" stroke-width="0.8"/>
<line x1="298.1" y1="1111.6" x2="298.1" y2="1119" stroke="#000" stroke-width="2.1" stroke-linecap="butt"/>
<line x1="292.45" y1="1111.6" x2="303.75" y2="1111.6" stroke="#000" stroke-width="2.4" stroke-linecap="butt"/>
<line x1="292.45" y1="1119" x2="303.75" y2="1119" stroke="#000" stroke-width="2.4" stroke-linecap="butt"/>
<line x1="332.9" y1="897.6" x2="332.9" y2="912.3" stroke="#000" stroke-width="2.1" stroke-linecap="butt"/>
<line x1="327.25" y1="897.6" x2="338.55" y2="897.6" stroke="#000" stroke-width="2.4" stroke-linecap="butt"/>
<line x1="327.25" y1="912.3" x2="338.55" y2="912.3" stroke="#000" stroke-width="2.4" stroke-linecap="butt"/>
<rect x="419.7" y="1134.1" width="34.8" height="37.5" fill="#0000ff" stroke="#333" stroke-width="0.8"/>
<rect x="454.5" y="984.3" width="34.8" height="187.3" fill="#ff0000" stroke="#333" stroke-width="0.8"/>
<line x1="437.1" y1="1129" x2="437.1" y2="1138" stroke="#000" stroke-width="2.1" stroke-linecap="butt"/>
<line x1="431.45" y1="1129" x2="442.75" y2="1129" stroke="#000" stroke-width="2.4" stroke-linecap="butt"/>
<line x1="431.45" y1="1138" x2="442.75" y2="1138" stroke="#000" stroke-width="2.4" stroke-linecap="butt"/>
<line x1="471.9" y1="979.9" x2="471.9" y2="989.3" stroke="#000" stroke-width="2.1" stroke-linecap="butt"/>
<line x1="466.25" y1="979.9" x2="477.55" y2="979.9" stroke="#000" stroke-width="2.4" stroke-linecap="butt"/>
<line x1="466.25" y1="989.3" x2="477.55" y2="989.3" stroke="#000" stroke-width="2.4" stroke-linecap="butt"/>
<rect x="107.8" y="834.2" width="416.7" height="337.8" fill="none" stroke="#000" stroke-width="3.5"/>
<line x1="107.8" y1="1104.2" x2="115.05" y2="1104.2" stroke="#000" stroke-width="3" stroke-linecap="butt"/>
<line x1="107.8" y1="1036.8" x2="115.05" y2="1036.8" stroke="#000" stroke-width="3" stroke-linecap="butt"/>
<line x1="107.8" y1="969.4" x2="115.05" y2="969.4" stroke="#000" stroke-width="3" stroke-linecap="butt"/>
<line x1="107.8" y1="902" x2="115.05" y2="902" stroke="#000" stroke-width="3" stroke-linecap="butt"/>
<line x1="107.8" y1="1137.9" x2="112.75" y2="1137.9" stroke="#000" stroke-width="3" stroke-linecap="butt"/>
<line x1="107.8" y1="1070.5" x2="112.75" y2="1070.5" stroke="#000" stroke-width="3" stroke-linecap="butt"/>
<line x1="107.8" y1="1003.1" x2="112.75" y2="1003.1" stroke="#000" stroke-width="3" stroke-linecap="butt"/>
<line x1="107.8" y1="935.7" x2="112.75" y2="935.7" stroke="#000" stroke-width="3" stroke-linecap="butt"/>
<line x1="107.8" y1="868.3" x2="112.75" y2="868.3" stroke="#000" stroke-width="3" stroke-linecap="butt"/>
<line x1="176.6" y1="1172" x2="176.6" y2="1167.25" stroke="#000" stroke-width="3" stroke-linecap="butt"/>
<line x1="246" y1="1172" x2="246" y2="1167.25" stroke="#000" stroke-width="3" stroke-linecap="butt"/>
<line x1="315.5" y1="1172" x2="315.5" y2="1167.25" stroke="#000" stroke-width="3" stroke-linecap="butt"/>
<line x1="385.5" y1="1172" x2="385.5" y2="1167.25" stroke="#000" stroke-width="3" stroke-linecap="butt"/>
<line x1="454.5" y1="1172" x2="454.5" y2="1167.25" stroke="#000" stroke-width="3" stroke-linecap="butt"/>
<text transform="translate(100.5 1180.01) scale(1.0000 1.0750)" font-size="28.15" fill="#000" text-anchor="end" >0.0</text>
<text transform="translate(100.5 1112.61) scale(1.0000 1.0750)" font-size="28.15" fill="#000" text-anchor="end" >0.2</text>
<text transform="translate(100.5 1045.21) scale(1.0000 1.0750)" font-size="28.15" fill="#000" text-anchor="end" >0.4</text>
<text transform="translate(100.5 977.81) scale(1.0000 1.0750)" font-size="28.15" fill="#000" text-anchor="end" >0.6</text>
<text transform="translate(100.5 910.41) scale(1.0000 1.0750)" font-size="28.15" fill="#000" text-anchor="end" >0.8</text>
<text transform="translate(100.5 843.01) scale(1.0000 1.0750)" font-size="28.15" fill="#000" text-anchor="end" >1.0</text>
<text x="176.6" y="1201.2" font-size="28.1" fill="#000" text-anchor="middle" >1L-Gr</text>
<text x="315.5" y="1201.2" font-size="28.1" fill="#000" text-anchor="middle" >3L-Gr</text>
<text x="454.5" y="1201.2" font-size="28.1" fill="#000" text-anchor="middle" >5L-Gr</text>
<text transform="translate(336 1225.9) scale(1.0000 0.9500)" font-size="28" fill="#000" text-anchor="middle" >Samples (#)</text>
<text transform="translate(47.9 1006.7) rotate(-90) scale(0.9720 1)" font-size="29" text-anchor="middle">Current (<tspan font-weight="normal">μ</tspan>A)</text>
<text transform="translate(21.8 839.5) scale(1.0000 0.9500)" font-size="38.5" fill="#000" text-anchor="start" >(e)</text>
<rect x="207.5" y="837" width="43.9" height="21.2" fill="#0000ff" stroke="#333" stroke-width="0.8"/>
<rect x="207.5" y="861.7" width="43.9" height="21.1" fill="#ff0000" stroke="#333" stroke-width="0.8"/>
<text x="256.7" y="854.3" font-size="19.6" fill="#000" text-anchor="start" >PTFE@Graphene/Al foil</text>
<text x="256.7" y="878.8" font-size="19.6" fill="#000" text-anchor="start" >PTFE@Graphene/Al<tspan font-size="11.5" dy="6">2</tspan><tspan dy="-6">O</tspan><tspan font-size="11.5" dy="6">3</tspan><tspan dy="-6">/Al foil</tspan></text>
<rect x="675" y="1145.6" width="34.6" height="30.9" fill="#0000ff" stroke="#333" stroke-width="0.8"/>
<rect x="709.6" y="1047.6" width="34.6" height="128.9" fill="#ff0000" stroke="#333" stroke-width="0.8"/>
<line x1="692.3" y1="1143.6" x2="692.3" y2="1147.6" stroke="#000" stroke-width="2.1" stroke-linecap="butt"/>
<line x1="686.65" y1="1143.6" x2="697.95" y2="1143.6" stroke="#000" stroke-width="2.4" stroke-linecap="butt"/>
<line x1="686.65" y1="1147.6" x2="697.95" y2="1147.6" stroke="#000" stroke-width="2.4" stroke-linecap="butt"/>
<line x1="726.9" y1="1027.6" x2="726.9" y2="1067.4" stroke="#000" stroke-width="2.1" stroke-linecap="butt"/>
<line x1="721.25" y1="1027.6" x2="732.55" y2="1027.6" stroke="#000" stroke-width="2.4" stroke-linecap="butt"/>
<line x1="721.25" y1="1067.4" x2="732.55" y2="1067.4" stroke="#000" stroke-width="2.4" stroke-linecap="butt"/>
<rect x="813.4" y="1124.2" width="34.6" height="52.3" fill="#0000ff" stroke="#333" stroke-width="0.8"/>
<rect x="848" y="939" width="34.6" height="237.5" fill="#ff0000" stroke="#333" stroke-width="0.8"/>
<line x1="830.7" y1="1111.5" x2="830.7" y2="1137.8" stroke="#000" stroke-width="2.1" stroke-linecap="butt"/>
<line x1="825.05" y1="1111.5" x2="836.35" y2="1111.5" stroke="#000" stroke-width="2.4" stroke-linecap="butt"/>
<line x1="825.05" y1="1137.8" x2="836.35" y2="1137.8" stroke="#000" stroke-width="2.4" stroke-linecap="butt"/>
<line x1="865.3" y1="925.7" x2="865.3" y2="952" stroke="#000" stroke-width="2.1" stroke-linecap="butt"/>
<line x1="859.65" y1="925.7" x2="870.95" y2="925.7" stroke="#000" stroke-width="2.4" stroke-linecap="butt"/>
<line x1="859.65" y1="952" x2="870.95" y2="952" stroke="#000" stroke-width="2.4" stroke-linecap="butt"/>
<rect x="951.8" y="1134.1" width="34.6" height="42.4" fill="#0000ff" stroke="#333" stroke-width="0.8"/>
<rect x="986.4" y="1004" width="34.6" height="172.5" fill="#ff0000" stroke="#333" stroke-width="0.8"/>
<line x1="969.1" y1="1122.6" x2="969.1" y2="1145.5" stroke="#000" stroke-width="2.1" stroke-linecap="butt"/>
<line x1="963.45" y1="1122.6" x2="974.75" y2="1122.6" stroke="#000" stroke-width="2.4" stroke-linecap="butt"/>
<line x1="963.45" y1="1145.5" x2="974.75" y2="1145.5" stroke="#000" stroke-width="2.4" stroke-linecap="butt"/>
<line x1="1003.7" y1="987" x2="1003.7" y2="1021" stroke="#000" stroke-width="2.1" stroke-linecap="butt"/>
<line x1="998.05" y1="987" x2="1009.35" y2="987" stroke="#000" stroke-width="2.4" stroke-linecap="butt"/>
<line x1="998.05" y1="1021" x2="1009.35" y2="1021" stroke="#000" stroke-width="2.4" stroke-linecap="butt"/>
<rect x="641.2" y="840.4" width="415.1" height="336.6" fill="none" stroke="#000" stroke-width="3.5"/>
<line x1="641.2" y1="1092.5" x2="648.45" y2="1092.5" stroke="#000" stroke-width="3" stroke-linecap="butt"/>
<line x1="641.2" y1="1008.5" x2="648.45" y2="1008.5" stroke="#000" stroke-width="3" stroke-linecap="butt"/>
<line x1="641.2" y1="924.5" x2="648.45" y2="924.5" stroke="#000" stroke-width="3" stroke-linecap="butt"/>
<line x1="641.2" y1="1134.5" x2="646.15" y2="1134.5" stroke="#000" stroke-width="3" stroke-linecap="butt"/>
<line x1="641.2" y1="1050.5" x2="646.15" y2="1050.5" stroke="#000" stroke-width="3" stroke-linecap="butt"/>
<line x1="641.2" y1="966.5" x2="646.15" y2="966.5" stroke="#000" stroke-width="3" stroke-linecap="butt"/>
<line x1="641.2" y1="882.5" x2="646.15" y2="882.5" stroke="#000" stroke-width="3" stroke-linecap="butt"/>
<line x1="709.6" y1="1177" x2="709.6" y2="1172.25" stroke="#000" stroke-width="3" stroke-linecap="butt"/>
<line x1="779" y1="1177" x2="779" y2="1172.25" stroke="#000" stroke-width="3" stroke-linecap="butt"/>
<line x1="848" y1="1177" x2="848" y2="1172.25" stroke="#000" stroke-width="3" stroke-linecap="butt"/>
<line x1="917.7" y1="1177" x2="917.7" y2="1172.25" stroke="#000" stroke-width="3" stroke-linecap="butt"/>
<line x1="986.4" y1="1177" x2="986.4" y2="1172.25" stroke="#000" stroke-width="3" stroke-linecap="butt"/>
<text transform="translate(633.6 1184.59) scale(1.0000 1.0500)" font-size="27.9" fill="#000" text-anchor="end" >0</text>
<text transform="translate(633.6 1100.59) scale(1.0000 1.0500)" font-size="27.9" fill="#000" text-anchor="end" >20</text>
<text transform="translate(633.6 1016.59) scale(1.0000 1.0500)" font-size="27.9" fill="#000" text-anchor="end" >40</text>
<text transform="translate(633.6 932.59) scale(1.0000 1.0500)" font-size="27.9" fill="#000" text-anchor="end" >60</text>
<text transform="translate(633.6 848.59) scale(1.0000 1.0500)" font-size="27.9" fill="#000" text-anchor="end" >80</text>
<text transform="translate(709.6 1206) scale(1.0000 0.9800)" font-size="27.9" fill="#000" text-anchor="middle" >1L-Gr</text>
<text transform="translate(848 1206) scale(1.0000 0.9800)" font-size="27.9" fill="#000" text-anchor="middle" >3L-Gr</text>
<text transform="translate(986.4 1206) scale(1.0000 0.9800)" font-size="27.9" fill="#000" text-anchor="middle" >5L-Gr</text>
<text transform="translate(856 1230) scale(1.0000 0.9500)" font-size="28.6" fill="#000" text-anchor="middle" >Samples (#)</text>
<text transform="translate(594.1 996.2) rotate(-90) scale(1.0190 1)" font-size="28.5" text-anchor="middle">Voltage (V)</text>
<text transform="translate(561 852.4) scale(1.0000 0.9500)" font-size="38.5" fill="#000" text-anchor="start" >(f)</text>
<rect x="737" y="847" width="44" height="20.6" fill="#0000ff" stroke="#333" stroke-width="0.8"/>
<rect x="737" y="871.6" width="44" height="20.4" fill="#ff0000" stroke="#333" stroke-width="0.8"/>
<text x="787" y="864" font-size="19.6" fill="#000" text-anchor="start" >PTFE@Graphene/Al foil</text>
<text x="787" y="888.5" font-size="19.6" fill="#000" text-anchor="start" >PTFE@Graphene/Al<tspan font-size="11.5" dy="6">2</tspan><tspan dy="-6">O</tspan><tspan font-size="11.5" dy="6">3</tspan><tspan dy="-6">/Al foil</tspan></text>
</svg>
</body></html>
